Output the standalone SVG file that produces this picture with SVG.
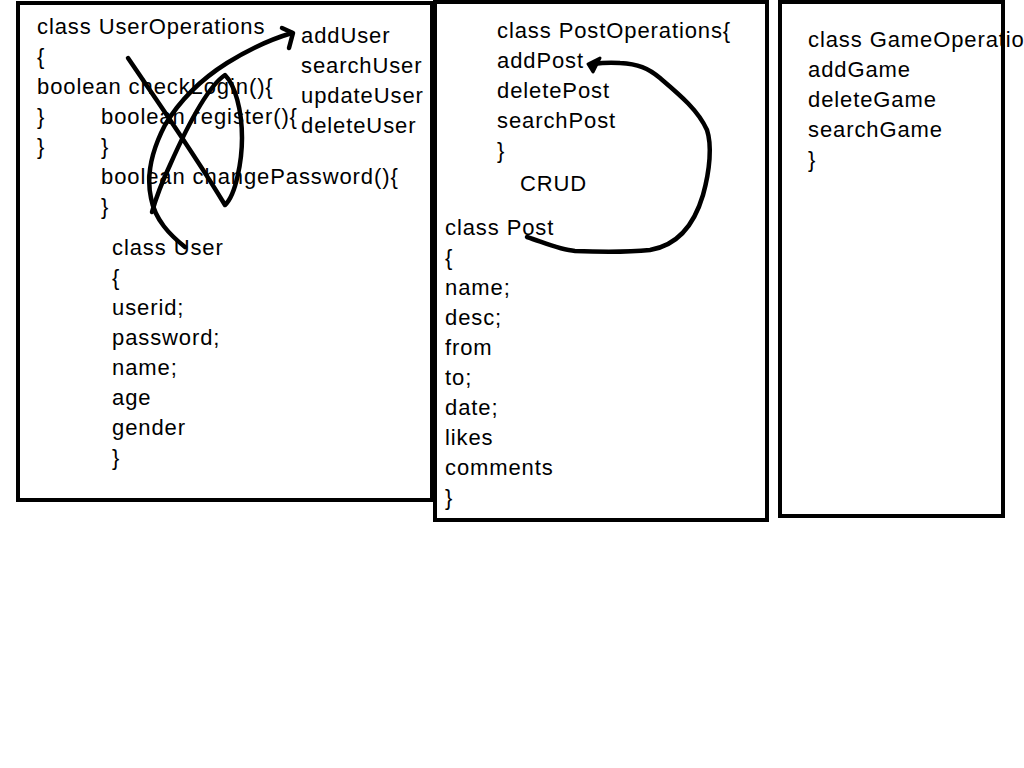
<svg xmlns="http://www.w3.org/2000/svg" width="1024" height="768" viewBox="0 0 1024 768">
<style>
  .box { fill: none; stroke: #000; stroke-width: 4; }
  text { font-family: "Liberation Sans", Arial, Helvetica, sans-serif; font-size: 22px; letter-spacing: 0.9px; fill: #000; }
  .ink { fill: none; stroke: #000; stroke-width: 4.5; stroke-linecap: round; stroke-linejoin: round; }
</style>
<rect width="1024" height="768" fill="#fff"/>

<g id="user-operations">
  <rect class="box" x="18" y="3" width="414" height="497"/>
  <text x="37" y="34">class UserOperations</text>
  <text x="37" y="64">{</text>
  <text x="37" y="94">boolean checkLogin(){</text>
  <text x="37" y="124">}</text>
  <text x="37" y="154">}</text>
  <text x="101" y="124">boolean register(){</text>
  <text x="101" y="154">}</text>
  <text x="101" y="184">boolean changePassword(){</text>
  <text x="101" y="214">}</text>
  <text x="301" y="43">addUser</text>
  <text x="301" y="73">searchUser</text>
  <text x="301" y="103">updateUser</text>
  <text x="301" y="133">deleteUser</text>
</g>

<g id="user-class">
  <text x="112" y="255">class User</text>
  <text x="112" y="285">{</text>
  <text x="112" y="315">userid;</text>
  <text x="112" y="345">password;</text>
  <text x="112" y="375">name;</text>
  <text x="112" y="405">age</text>
  <text x="112" y="435">gender</text>
  <text x="112" y="465">}</text>
</g>

<g id="post-operations">
  <rect class="box" x="435" y="2" width="332" height="518"/>
  <text x="497" y="38">class  PostOperations{</text>
  <text x="497" y="68">addPost</text>
  <text x="497" y="98">deletePost</text>
  <text x="497" y="128">searchPost</text>
  <text x="497" y="158">}</text>
  <text x="520" y="191">CRUD</text>
</g>

<g id="post-class">
  <text x="445" y="235">class Post</text>
  <text x="445" y="265">{</text>
  <text x="445" y="295">name;</text>
  <text x="445" y="325">desc;</text>
  <text x="445" y="355">from</text>
  <text x="445" y="385">to;</text>
  <text x="445" y="415">date;</text>
  <text x="445" y="445">likes</text>
  <text x="445" y="475">comments</text>
  <text x="445" y="505">}</text>
</g>

<g id="game-operations">
  <rect class="box" x="780" y="2" width="223" height="514"/>
  <text x="808" y="47">class GameOperations</text>
  <text x="808" y="77">addGame</text>
  <text x="808" y="107">deleteGame</text>
  <text x="808" y="137">searchGame</text>
  <text x="808" y="167">}</text>
</g>

<g id="connectors">
  <!-- scribbled X loop over the UserOperations methods -->
  <path class="ink" d="M128 58 C160 105 195 155 225 205 C236 195 242 160 242 138 C242 110 235 85 225 75 C210 85 190 120 170 165 C162 182 156 198 152 212"/>
  <!-- arrow from class User up to addUser -->
  <path class="ink" d="M185 247 C170 235 155 220 151 198 C146 175 152 150 165 125 C180 100 200 80 227 63 C248 50 268 40 292 33"/>
  <path class="ink" d="M282 28 L293 33 L289 48"/>
  <!-- loop from class Post back to addPost -->
  <path class="ink" d="M527 237 C545 243 560 250 575 251 C600 252 630 252 650 250 C680 245 695 222 703 195 C710 170 712 145 707 130 C698 110 680 95 660 78 C648 68 638 64 620 63 C608 62 600 63 593 64"/>
  <path d="M600 58 L588 64 L593 72 Z" fill="#000" stroke="#000" stroke-width="3" stroke-linejoin="round"/>
</g>
</svg>
